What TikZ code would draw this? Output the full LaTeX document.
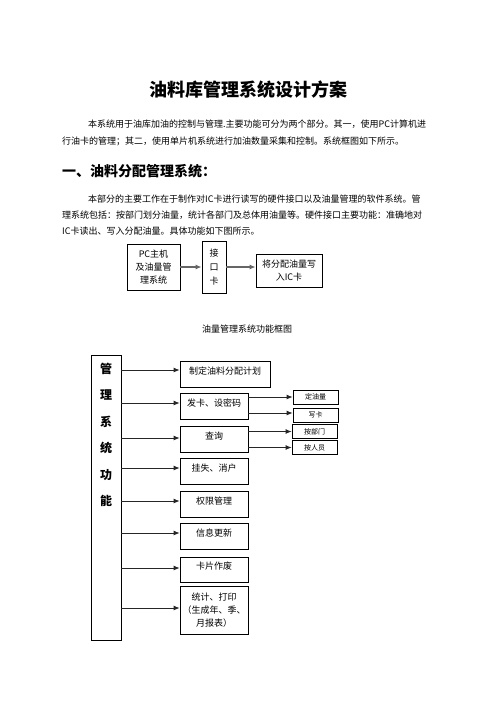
\documentclass[tikz,border=0pt]{standalone}
\usepackage{fontspec}
\setmainfont{Noto Sans CJK SC}
\usepackage{tikz}
\usetikzlibrary{arrows.meta, positioning}

\begin{document}
\begin{tikzpicture}[
    x=1pt, y=-1pt,
    txt/.style={anchor=west, inner sep=0, font=\fontsize{9}{11}\selectfont},
    box/.style={rectangle, draw, line width=0.8pt, inner sep=1pt, align=center, font=\fontsize{9}{13}\selectfont},
    fbox/.style={box, minimum width=68, minimum height=26, text height=7pt, text depth=7pt},
    sbox/.style={rectangle, draw, line width=0.8pt, minimum width=45, minimum height=14, inner sep=0, font=\fontsize{7}{8}\selectfont},
    garrow/.style={-{Latex[length=6pt,width=5pt]}, line width=1.6pt, draw=black!60},
    arrow/.style={-{Latex[length=6pt,width=5pt]}, line width=0.8pt, draw=black!85}
]
    \useasboundingbox (0,0) rectangle (496,702);

    % Text
    \node[font=\bfseries\fontsize{18}{20}\selectfont] (title) at (248,90) {油料库管理系统设计方案};
    \node[txt] (p1a) at (88,124) {本系统用于油库加油的控制与管理.主要功能可分为两个部分。其一，使用PC计算机进};
    \node[txt] (p1b) at (62,141) {行油卡的管理；其二，使用单片机系统进行加油数量采集和控制。系统框图如下所示。};
    \node[txt, font=\bfseries\fontsize{14}{16}\selectfont] (sec1) at (62,171) {一、油料分配管理系统：};
    \node[txt] (p2a) at (88,199) {本部分的主要工作在于制作对IC卡进行读写的硬件接口以及油量管理的软件系统。管};
    \node[txt] (p2b) at (62,215) {理系统包括：按部门划分油量，统计各部门及总体用油量等。硬件接口主要功能：准确地对};
    \node[txt] (p2c) at (62,231) {IC卡读出、写入分配油量。具体功能如下图所示。};

    % Hardware chain
    \node[box, minimum width=53, minimum height=46] (pc) at (153.5,267) {PC主机\\及油量管\\理系统};
    \node[box, minimum width=24, minimum height=52, font=\fontsize{9}{14}\selectfont] (iface) at (214,267) {接\\口\\卡};
    \node[box, minimum width=66, minimum height=33] (write) at (289,270.5) {将分配油量写\\入IC卡};
    \node[font=\fontsize{9}{11}\selectfont] (cap) at (247,329) {油量管理系统功能框图};

    \draw[garrow] (pc.east |- iface) -- (iface.west);
    \draw[garrow] (iface.east) -- (iface.east -| write.west);

    % Function tree
    \node[rectangle, draw, line width=0.8pt, minimum width=30, minimum height=285] (mgmt) at (106,497.5) {};
    \node[below=8pt of mgmt.north, inner sep=0, align=center, font=\bfseries\fontsize{12}{26.5}\selectfont] (mgmtText) {管\\理\\系\\统\\功\\能};

    \node[fbox, minimum width=90] (plan) at (225,374) {制定油料分配计划};
    \node[fbox] (card) at (214,406) {发卡、设密码};
    \node[fbox] (query) at (214,439) {查询};
    \node[fbox] (loss) at (214,471) {挂失、消户};
    \node[fbox] (perm) at (214,504) {权限管理};
    \node[fbox] (info) at (214,536) {信息更新};
    \node[fbox, minimum height=25] (void) at (214,569.5) {卡片作废};
    \node[box, minimum width=68, minimum height=48] (stats) at (214,610) {统计、打印\\（生成年、季、\\月报表）};

    \node[sbox] (fixq) at (315.5,397) {定油量};
    \node[sbox] (wcard) at (315.5,415) {写卡};
    \node[sbox] (bydept) at (314.5,431.5) {按部门};
    \node[sbox] (byuser) at (314.5,447.5) {按人员};

    % Arrows
    \draw[arrow] ([yshift=4pt]mgmt.east |- plan.west) -- ([yshift=4pt]plan.west);
    \draw[arrow] ([yshift=3pt]mgmt.east |- card.west) -- ([yshift=3pt]card.west);
    \draw[arrow] ([yshift=1pt]mgmt.east |- query.west) -- ([yshift=1pt]query.west);
    \draw[arrow] ([yshift=3pt]mgmt.east |- loss.west) -- ([yshift=3pt]loss.west);
    \draw[arrow] ([yshift=3pt]mgmt.east |- perm.west) -- ([yshift=3pt]perm.west);
    \draw[arrow] ([yshift=3pt]mgmt.east |- info.west) -- ([yshift=3pt]info.west);
    \draw[arrow] ([yshift=1.5pt]mgmt.east |- void.west) -- ([yshift=1.5pt]void.west);
    \draw[arrow] ([yshift=2pt]mgmt.east |- stats.west) -- ([yshift=2pt]stats.west);

    \draw[arrow] (card.east |- fixq.west) -- (fixq.west);
    \draw[arrow] ([yshift=2pt]card.east |- wcard.west) -- ([yshift=2pt]wcard.west);
    \draw[arrow] (query.east |- bydept.west) -- (bydept.west);
    \draw[arrow] (query.east |- byuser.west) -- (byuser.west);
\end{tikzpicture}
\end{document}
